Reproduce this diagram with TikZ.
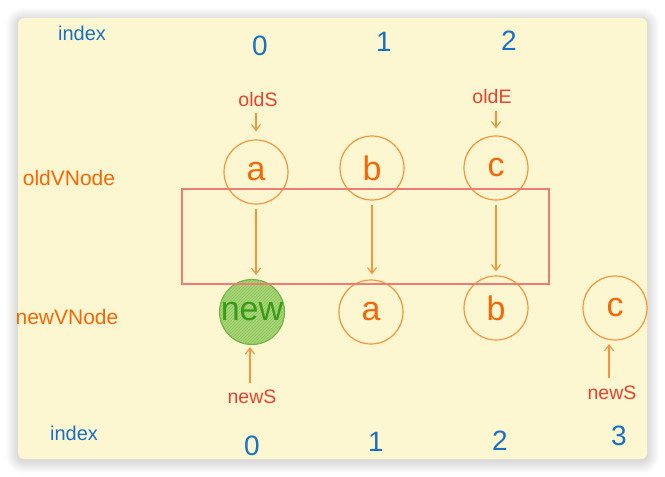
\documentclass[tikz,border=0pt]{standalone}
\usepackage{fontspec}
\setmainfont{Liberation Sans}
\usetikzlibrary{arrows.meta,patterns}
\definecolor{card}{HTML}{FDF7D1}
\definecolor{idxblue}{HTML}{1971C2}
\definecolor{lblorange}{HTML}{F76707}
\definecolor{ptrred}{HTML}{E8432F}
\definecolor{circorange}{HTML}{F7953A}
\definecolor{boxred}{HTML}{EE7B74}
\definecolor{newfill}{HTML}{A8D673}
\definecolor{newtext}{HTML}{3A9A18}
\definecolor{newline}{HTML}{6DB33F}
\begin{document}
\begin{tikzpicture}[x=1pt,y=-1pt,
 idx/.style={text=idxblue,font=\fontsize{20}{20}\selectfont},
 num/.style={text=idxblue,font=\fontsize{28}{28}\selectfont},
 rowlbl/.style={text=lblorange,font=\fontsize{21}{21}\selectfont},
 ptr/.style={text=ptrred,font=\fontsize{19.5}{19.5}\selectfont},
 vn/.style={circle,draw=circorange,line width=1.2pt,minimum size=64pt,inner sep=0pt,text=lblorange,font=\fontsize{34}{34}\selectfont},
 arr/.style={draw=circorange,line width=1.1pt,-{Straight Barb[length=6pt,width=9pt]}},
 rangebox/.style={draw=boxred,line width=1.2pt,minimum width=367pt,minimum height=95pt,inner sep=0pt},
]
\useasboundingbox (0,0) rectangle (665,477);
\fill[white] (0,0) rectangle (665,477);
% shadow
\foreach \i in {1,...,12}
  \fill[black,opacity=0.012,rounded corners=6+\i] (18-\i,20-\i) rectangle (647+\i,461+\i);
\fill[card,rounded corners=6] (18,18) rectangle (647,459);

% top labels
\node[idx] (idxT) at (82,33) {index};
\node[num] (t0) at (260,46) {0};
\node[num] (t1) at (384,42) {1};
\node[num] (t2) at (509,41) {2};

\node[rowlbl] (oldlbl) at (69,178) {oldVNode};
\node[rowlbl] (newlbl) at (67,317) {newVNode};

\node[ptr] (oldS) at (258,100) {oldS};
\node[ptr] (oldE) at (492,97) {oldE};

% old row
\node[vn] (oa) at (256,172) {a};
\node[vn] (ob) at (372,168) {b};
\node[vn] (oc) at (496,168) {c};

% new row
\node[vn,fill=newfill,draw=newline,text=newtext,postaction={pattern=north east lines,pattern color=newline!80}] (nn) at (252,312) {new};
\node[vn] (na) at (371,312) {a};
\node[vn] (nb) at (496,308) {b};
\node[vn] (nc) at (615,308) {c};

% range box
\node[rangebox] (box) at (365.5,236.5) {};

% pointer labels below
\node[ptr] (newS0) at (252,397) {newS};
\node[ptr] (newS3) at (612,393) {newS};

% bottom index
\node[idx] (idxB) at (74,433) {index};
\node[num] (b0) at (252,446) {0};
\node[num] (b1) at (376,442) {1};
\node[num] (b2) at (500,441) {2};
\node[num] (b3) at (619,436) {3};

% arrows
\draw[arr,shorten <=2pt,shorten >=8pt] (oldS.south -| oa.north) -- (oa.north);
\draw[arr,shorten <=3pt,shorten >=7pt] (oldE.south -| oc.north) -- (oc.north);
\draw[arr,shorten <=4pt,shorten >=4pt] (oa.south) -- (oa.south |- nn.north);
\draw[arr,shorten <=4pt,shorten >=5pt] (ob.south) -- (ob.south |- na.north);
\draw[arr,shorten <=4pt,shorten >=4pt] (oc.south) -- (oc.south |- nb.north);
\draw[arr,shorten <=4pt,shorten >=3pt] (newS0.north -| 250,0) -- (250,344);
\draw[arr,shorten <=5pt,shorten >=5pt] (newS3.north -| 609,0) -- (609,339);
\end{tikzpicture}
\end{document}
